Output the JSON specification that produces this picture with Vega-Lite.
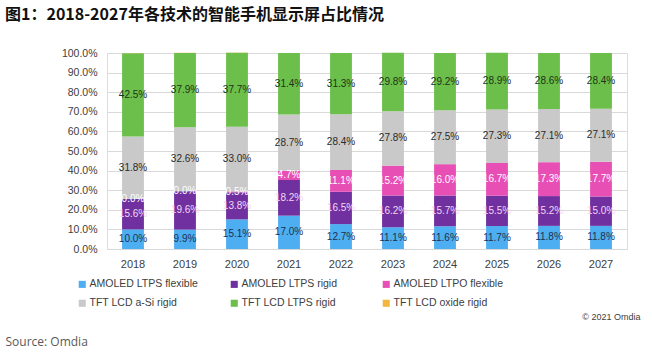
{
  "$schema": "https://vega.github.io/schema/vega-lite/v6.json",
  "autosize": {"type": "none"},
  "width": 520,
  "height": 196,
  "padding": {"left": 107, "top": 53, "right": 25, "bottom": 110},
  "background": "white",
  "config": {"axis": {"labelOverlap": false}},
  "title": {
    "text": "图1：2018-2027年各技术的智能手机显示屏占比情况",
    "anchor": "start",
    "frame": "group",
    "font": "Noto Sans CJK SC",
    "fontSize": 16,
    "fontWeight": "bold",
    "color": "#111111",
    "dx": -102,
    "offset": 25
  },
  "data": {"values": [
    {"year": "2018", "series": "AMOLED LTPS flexible", "v": 0.100, "k": 1},
    {"year": "2018", "series": "AMOLED LTPS rigid", "v": 0.156, "k": 2},
    {"year": "2018", "series": "AMOLED LTPO flexible", "v": 0.000, "k": 3},
    {"year": "2018", "series": "TFT LCD a-Si rigid", "v": 0.318, "k": 4},
    {"year": "2018", "series": "TFT LCD LTPS rigid", "v": 0.425, "k": 5},
    {"year": "2018", "series": "TFT LCD oxide rigid", "v": 0.001, "k": 6},
    {"year": "2019", "series": "AMOLED LTPS flexible", "v": 0.099, "k": 1},
    {"year": "2019", "series": "AMOLED LTPS rigid", "v": 0.196, "k": 2},
    {"year": "2019", "series": "AMOLED LTPO flexible", "v": 0.000, "k": 3},
    {"year": "2019", "series": "TFT LCD a-Si rigid", "v": 0.326, "k": 4},
    {"year": "2019", "series": "TFT LCD LTPS rigid", "v": 0.379, "k": 5},
    {"year": "2019", "series": "TFT LCD oxide rigid", "v": 0.001, "k": 6},
    {"year": "2020", "series": "AMOLED LTPS flexible", "v": 0.151, "k": 1},
    {"year": "2020", "series": "AMOLED LTPS rigid", "v": 0.138, "k": 2},
    {"year": "2020", "series": "AMOLED LTPO flexible", "v": 0.005, "k": 3},
    {"year": "2020", "series": "TFT LCD a-Si rigid", "v": 0.330, "k": 4},
    {"year": "2020", "series": "TFT LCD LTPS rigid", "v": 0.377, "k": 5},
    {"year": "2020", "series": "TFT LCD oxide rigid", "v": 0.001, "k": 6},
    {"year": "2021", "series": "AMOLED LTPS flexible", "v": 0.170, "k": 1},
    {"year": "2021", "series": "AMOLED LTPS rigid", "v": 0.182, "k": 2},
    {"year": "2021", "series": "AMOLED LTPO flexible", "v": 0.047, "k": 3},
    {"year": "2021", "series": "TFT LCD a-Si rigid", "v": 0.287, "k": 4},
    {"year": "2021", "series": "TFT LCD LTPS rigid", "v": 0.314, "k": 5},
    {"year": "2021", "series": "TFT LCD oxide rigid", "v": 0.000, "k": 6},
    {"year": "2022", "series": "AMOLED LTPS flexible", "v": 0.127, "k": 1},
    {"year": "2022", "series": "AMOLED LTPS rigid", "v": 0.165, "k": 2},
    {"year": "2022", "series": "AMOLED LTPO flexible", "v": 0.111, "k": 3},
    {"year": "2022", "series": "TFT LCD a-Si rigid", "v": 0.284, "k": 4},
    {"year": "2022", "series": "TFT LCD LTPS rigid", "v": 0.313, "k": 5},
    {"year": "2022", "series": "TFT LCD oxide rigid", "v": 0.000, "k": 6},
    {"year": "2023", "series": "AMOLED LTPS flexible", "v": 0.111, "k": 1},
    {"year": "2023", "series": "AMOLED LTPS rigid", "v": 0.162, "k": 2},
    {"year": "2023", "series": "AMOLED LTPO flexible", "v": 0.152, "k": 3},
    {"year": "2023", "series": "TFT LCD a-Si rigid", "v": 0.278, "k": 4},
    {"year": "2023", "series": "TFT LCD LTPS rigid", "v": 0.298, "k": 5},
    {"year": "2023", "series": "TFT LCD oxide rigid", "v": 0.000, "k": 6},
    {"year": "2024", "series": "AMOLED LTPS flexible", "v": 0.116, "k": 1},
    {"year": "2024", "series": "AMOLED LTPS rigid", "v": 0.157, "k": 2},
    {"year": "2024", "series": "AMOLED LTPO flexible", "v": 0.160, "k": 3},
    {"year": "2024", "series": "TFT LCD a-Si rigid", "v": 0.275, "k": 4},
    {"year": "2024", "series": "TFT LCD LTPS rigid", "v": 0.292, "k": 5},
    {"year": "2024", "series": "TFT LCD oxide rigid", "v": 0.000, "k": 6},
    {"year": "2025", "series": "AMOLED LTPS flexible", "v": 0.117, "k": 1},
    {"year": "2025", "series": "AMOLED LTPS rigid", "v": 0.155, "k": 2},
    {"year": "2025", "series": "AMOLED LTPO flexible", "v": 0.167, "k": 3},
    {"year": "2025", "series": "TFT LCD a-Si rigid", "v": 0.273, "k": 4},
    {"year": "2025", "series": "TFT LCD LTPS rigid", "v": 0.289, "k": 5},
    {"year": "2025", "series": "TFT LCD oxide rigid", "v": 0.000, "k": 6},
    {"year": "2026", "series": "AMOLED LTPS flexible", "v": 0.118, "k": 1},
    {"year": "2026", "series": "AMOLED LTPS rigid", "v": 0.152, "k": 2},
    {"year": "2026", "series": "AMOLED LTPO flexible", "v": 0.173, "k": 3},
    {"year": "2026", "series": "TFT LCD a-Si rigid", "v": 0.271, "k": 4},
    {"year": "2026", "series": "TFT LCD LTPS rigid", "v": 0.286, "k": 5},
    {"year": "2026", "series": "TFT LCD oxide rigid", "v": 0.000, "k": 6},
    {"year": "2027", "series": "AMOLED LTPS flexible", "v": 0.118, "k": 1},
    {"year": "2027", "series": "AMOLED LTPS rigid", "v": 0.150, "k": 2},
    {"year": "2027", "series": "AMOLED LTPO flexible", "v": 0.177, "k": 3},
    {"year": "2027", "series": "TFT LCD a-Si rigid", "v": 0.271, "k": 4},
    {"year": "2027", "series": "TFT LCD LTPS rigid", "v": 0.284, "k": 5},
    {"year": "2027", "series": "TFT LCD oxide rigid", "v": 0.000, "k": 6}
  ]},
  "transform": [
    {"stack": "v", "groupby": ["year"], "sort": [{"field": "k", "order": "ascending"}], "as": ["y0", "y1"]},
    {"calculate": "(datum.y0 + datum.y1) / 2", "as": "ymid"}
  ],
  "encoding": {
    "x": {
      "field": "year", "type": "ordinal",
      "scale": {"paddingInner": 0.58, "paddingOuter": 0.29},
      "axis": {
        "labelAngle": 0, "domain": false, "ticks": false, "labelPadding": 9,
        "labelFont": "Liberation Sans", "labelFontSize": 11, "labelColor": "#404040",
        "title": "© 2021 Omdia", "titleFont": "Liberation Sans", "titleFontSize": 9,
        "titleFontWeight": "normal", "titleColor": "#404040",
        "titleAnchor": "end", "titleAlign": "right", "titleBaseline": "middle",
        "titleX": 533, "titleY": 67
      }
    }
  },
  "layer": [
    {
      "mark": {"type": "bar"},
      "encoding": {
        "y": {
          "field": "y0", "type": "quantitative",
          "scale": {"domain": [0, 1], "nice": false},
          "axis": {
            "values": [0, 0.1, 0.2, 0.3, 0.4, 0.5, 0.6, 0.7, 0.8, 0.9, 1.0],
            "format": ".1%", "domain": false, "ticks": false, "labelPadding": 10,
            "labelOverlap": false,
            "gridColor": "#d9d9d9", "gridWidth": 1,
            "labelFont": "Liberation Sans", "labelFontSize": 10.5, "labelColor": "#404040",
            "title": "Source: Omdia", "titleAngle": 0, "titleFont": "Open Sans", "titleFontSize": 12,
            "titleFontWeight": "normal", "titleColor": "#595959",
            "titleAlign": "left", "titleBaseline": "middle", "titleX": -102, "titleY": 288
          }
        },
        "y2": {"field": "y1"},
        "color": {
          "field": "series", "type": "nominal",
          "scale": {
            "domain": ["AMOLED LTPS flexible", "AMOLED LTPS rigid", "AMOLED LTPO flexible", "TFT LCD a-Si rigid", "TFT LCD LTPS rigid", "TFT LCD oxide rigid"],
            "range": ["#4DAEF2", "#7030A0", "#E84FB5", "#C9C9C9", "#6CBF4B", "#F2B63C"]
          },
          "legend": {
            "title": null, "orient": "none", "direction": "horizontal", "legendX": -30, "legendY": 226,
            "columns": 3, "gridAlign": "all", "columnPadding": 29, "rowPadding": 8,
            "symbolType": "square", "symbolSize": 50, "symbolStrokeWidth": 0,
            "labelFont": "Liberation Sans", "labelFontSize": 10.5, "labelColor": "#404040",
            "labelOffset": 2
          }
        }
      }
    },
    {
      "transform": [{"filter": "datum.k < 6"}],
      "mark": {"type": "text", "font": "Liberation Sans", "fontSize": 10},
      "encoding": {
        "y": {
          "field": "ymid", "type": "quantitative",
          "scale": {"domain": [0, 1], "nice": false},
          "axis": {
            "values": [0, 0.1, 0.2, 0.3, 0.4, 0.5, 0.6, 0.7, 0.8, 0.9, 1.0],
            "format": ".1%", "domain": false, "ticks": false, "labelPadding": 10,
            "labelOverlap": false,
            "gridColor": "#d9d9d9", "gridWidth": 1,
            "labelFont": "Liberation Sans", "labelFontSize": 10.5, "labelColor": "#404040",
            "title": "Source: Omdia", "titleAngle": 0, "titleFont": "Open Sans", "titleFontSize": 12,
            "titleFontWeight": "normal", "titleColor": "#595959",
            "titleAlign": "left", "titleBaseline": "middle", "titleX": -102, "titleY": 288
          }
        },
        "text": {"field": "v", "type": "quantitative", "format": ".1%"},
        "color": {
          "field": "k", "type": "nominal",
          "scale": {"domain": [1, 2, 3, 4, 5], "range": ["#1F3050", "#F2D8F2", "#FFFFFF", "#2A2A2A", "#1E3318"]},
          "legend": null
        }
      }
    }
  ],
  "resolve": {"scale": {"color": "independent"}}
}
